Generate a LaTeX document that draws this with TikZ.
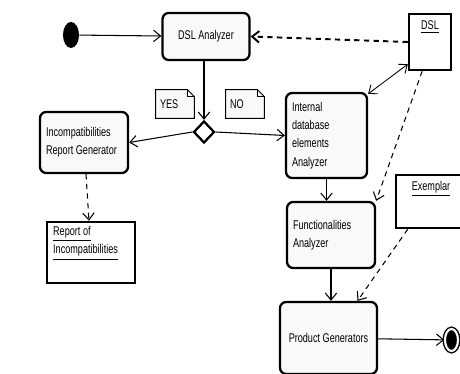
\documentclass[tikz,border=0pt]{standalone}
\usepackage{fontspec}
\setmainfont{Liberation Sans}[FakeStretch=0.72]
\usetikzlibrary{positioning,arrows.meta,shapes.geometric}
\definecolor{ActFill}{RGB}{249,249,249}
\newcommand{\umlfont}{\fontsize{7.2}{10.4}\selectfont}
\tikzset{
	act/.style={draw=black,line width=1.3pt,fill=ActFill,rounded corners=3.5pt,
		inner xsep=0.12cm,align=flush left,font=\umlfont},
	obj/.style={draw=black,line width=1.4pt,fill=white,font=\umlfont},
	note/.style={fill=ActFill,inner xsep=1.5pt,align=flush left,font=\umlfont,
		minimum width=0.76cm,minimum height=0.56cm,text width=0.6cm},
	flow/.style={-{Straight Barb[length=4pt,width=6.5pt]},line width=0.6pt},
	dep/.style={flow,dash pattern=on 3pt off 2.5pt},
}

\begin{document}
\begin{tikzpicture}[x=0.02cm,y=-0.02cm]
	\useasboundingbox (0,0) rectangle (460,374);
	% start and end
	\node[ellipse,fill=black,minimum width=0.32cm,minimum height=0.52cm,inner sep=0pt] (start) at (71,35) {};
	\node[ellipse,draw=black,fill=black,double=white,double distance=1.2pt,line width=0.8pt,
		minimum width=0.26cm,minimum height=0.44cm,inner sep=0pt] (fin) at (451.5,340) {};
	% activities
	\node[act,align=center,minimum width=1.74cm,minimum height=0.94cm] (ana) at (206,36.5) {DSL Analyzer};
	\node[act,text width=1.52cm,minimum height=1.22cm] (irg) at (84,142.5) {Incompatibilities\\Report Generator};
	\node[act,text width=1.38cm,minimum height=1.7cm] (int) at (326.5,135.5) {Internal\\database\\elements\\Analyzer};
	\node[act,text width=1.52cm,minimum height=1.32cm] (fun) at (331,235) {Functionalities\\Analyzer};
	\node[act,align=center,minimum width=1.94cm,minimum height=1.44cm] (pg) at (328.5,338) {Product Generators};
	% decision and notes
	\node[diamond,draw=black,line width=1.3pt,fill=white,inner sep=0pt,
		minimum width=0.42cm,minimum height=0.44cm] (dec) at (204,132) {};
	\node[note] (yes) at (175,104) {YES};
	\node[note] (no) at (245,104) {NO};
	\foreach \n in {yes,no}
	{
		\draw[line width=0.5pt] (\n.south west) -- (\n.north west) -- ([xshift=-4pt]\n.north east)
			-- ([yshift=-4pt]\n.north east) -- (\n.south east) -- cycle;
		\draw[line width=0.5pt] ([xshift=-4pt]\n.north east) |- ([yshift=-4pt]\n.north east);
	}
	% objects
	\node[obj,minimum width=0.84cm,minimum height=1.12cm,
		label={[anchor=north,inner sep=0pt,yshift=-4.5pt,font=\umlfont]north:\underline{DSL}}] (dsl) at (430,42) {};
	\node[obj,minimum width=1.4cm,minimum height=1.06cm,
		label={[anchor=north,inner sep=0pt,yshift=-4pt,font=\umlfont]north:\underline{Exemplar}}] (exm) at (431,201.5) {};
	\node[obj,minimum width=1.76cm,minimum height=1.22cm,
		label={[anchor=north west,align=flush left,inner sep=0pt,xshift=4pt,yshift=-3pt,font=\umlfont]north west:{\underline{Report of}\\\underline{Incompatibilities}}}] (rep) at (91,252.5) {};
	% control flow
	\draw[flow] (start) -- (ana);
	\draw[flow] (ana.south -| dec) -- (dec.north);
	\draw[flow] (dec.west) -- (irg.east);
	\draw[flow] (dec.east) -- (int.west);
	\draw[flow] (int.south) -- (int.south |- fun.north);
	\draw[flow] (fun.south) -- (fun.south |- pg.north);
	\draw[flow] (pg) -- (fin);
	\draw[{Straight Barb[length=4pt,width=6.5pt]}-{Straight Barb[length=4pt,width=6.5pt]},line width=0.5pt] (int.45) -- (dsl.-135);
	% object flow
	\draw[dep,line width=1.1pt] (dsl.west) -- (ana.east);
	\draw[dep] (dsl.-105) -- (fun.north east);
	\draw[dep] (exm.-130) -- (pg.52);
	\draw[dep] (irg) -- (rep);
\end{tikzpicture}
\end{document}
